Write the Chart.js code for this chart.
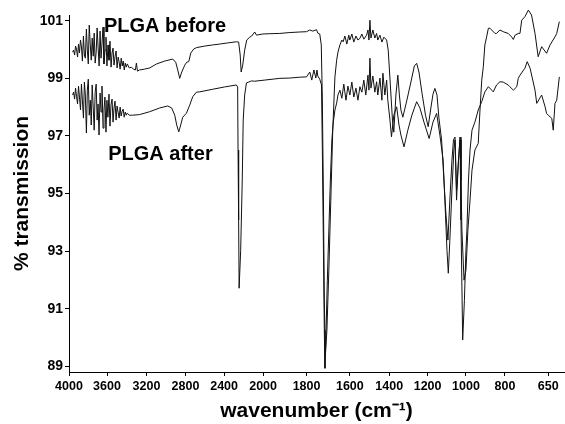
<!DOCTYPE html>
<html><head><meta charset="utf-8">
<script src="https://cdn.jsdelivr.net/npm/chart.js@4/dist/chart.umd.min.js"></script>
<style>html,body{margin:0;padding:0;background:#fff;}#wrap{width:565px;height:424px;}</style>
</head><body><div id="wrap"><canvas id="c" width="565" height="424"></canvas></div>
<script>
// ---- data (wavenumber cm-1, % transmission) ----
const beforeWn = [3962,3952,3941,3931,3921,3910,3900,3890,3879,3869,3859,3848,3838,3828,3817,3807,3797,3787,3776,3766,3756,3745,3735,3725,3714,3704,3694,3683,3673,3663,3652,3642,3632,3621,3611,3601,3590,3580,3570,3559,3549,3539,3529,3518,3508,3498,3487,3477,3467,3456,3446,3436,3425,3415,3405,3394,3374,3353,3333,3312,3302,3291,3271,
3220,3168,3096,3013,2931,2900,2879,2859,2838,2807,2787,2766,2745,2714,2683,2601,2519,2446,2364,2274,2251,2235,2225,2209,2189,2168,2137,2117,2086,2068,2003,1969,1923,1877,1831,1800,1785,1771,1754,1748,1739,1732,1727,1722,1718,1713,1706,1697,1688,1679,1669,1661,1655,1646,1637,1631,1623,1614,1605,1600,1590,1580,1569,1559,1549,1539,1529,1515,1508,1503,1498,1493,1483,1473,1464,1458,1447,1437,1427,1413,1405,1394,1383,1376,1365,1355,1347,1339,1329,1308,1287,1269,1257,1245,1230,1211,1197,1183,1172,1162,1151,1141,1127,1115,1104,1094,1084,1073,1065,1057,1049,1042,1031,1026,1021,1010,1000,990,979,969,954,937,928,919,911,903,894,885,877,851,843,826,809,789,777,771,765,754,748,742,731,719,708,696,685,673,656,644,627,621,612];
const beforeT = [99.91,99.98,99.81,100.12,100.02,99.74,100.19,99.88,100.33,100.09,99.60,100.47,99.81,99.70,100.71,99.98,99.50,100.85,100.16,99.63,100.40,99.77,100.57,99.53,99.91,100.75,100.09,99.43,100.64,99.70,100.26,100.78,99.50,99.98,100.43,99.43,100.16,99.63,100.29,99.39,99.88,100.05,99.46,99.77,99.95,99.36,99.74,99.56,99.32,99.70,99.43,99.60,99.29,99.53,99.39,99.50,99.36,99.39,99.32,99.29,99.53,99.25,99.29,
99.32,99.36,99.50,99.60,99.67,99.56,99.29,99.00,99.22,99.46,99.56,99.58,99.88,100.02,100.07,100.12,100.16,100.19,100.23,100.27,100.26,99.81,99.22,99.46,99.98,100.33,100.43,100.47,100.61,100.50,100.54,100.55,100.56,100.59,100.61,100.62,100.68,100.64,100.69,100.57,100.54,100.16,98.24,94.77,91.29,89.38,90.25,92.34,94.77,97.20,99.05,99.63,99.91,100.16,100.33,100.27,100.47,100.19,100.50,100.33,100.54,100.26,100.47,100.33,100.39,100.54,100.36,100.50,100.68,100.33,101.02,100.40,100.68,100.40,100.56,100.33,100.50,100.26,100.43,100.33,99.98,98.77,97.55,97.13,98.42,99.11,98.42,97.90,97.65,98.24,98.87,99.43,99.52,99.22,98.52,97.72,97.32,97.97,98.45,98.65,98.42,97.62,96.86,95.47,94.25,93.38,94.77,96.16,96.86,96.96,95.12,95.81,96.96,95.47,93.73,91.99,92.34,93.73,94.77,95.81,96.51,96.74,97.90,98.94,99.40,100.16,100.44,100.74,100.74,100.56,100.56,100.68,100.62,100.56,100.44,100.35,100.50,100.56,100.56,101.02,101.14,101.37,101.20,100.56,99.75,100.10,99.87,100.16,100.44,100.56,100.97];

const afterWn = [3962,3952,3941,3931,3921,3910,3900,3890,3879,3869,3859,3848,3838,3828,3817,3807,3797,3787,3776,3766,3756,3745,3735,3725,3714,3704,3694,3684,3673,3663,3653,3642,3632,3622,3611,3601,3591,3580,3570,3560,3549,3539,3529,3519,3508,3498,3488,3477,3467,3457,3446,3436,3426,3415,3405,3395,3374,
3340,3271,3168,3065,2982,2941,2910,2890,2869,2849,2828,2790,2756,2725,2687,2653,2519,2396,2274,2261,2257,2251,2246,2230,2214,2204,2189,2171,2148,2120,2086,1992,1923,1877,1831,1800,1785,1776,1766,1757,1752,1748,1739,1731,1727,1722,1718,1715,1711,1704,1697,1690,1683,1677,1669,1661,1655,1646,1637,1628,1618,1609,1600,1590,1580,1569,1559,1549,1539,1529,1519,1508,1503,1498,1493,1483,1473,1464,1458,1447,1437,1432,1422,1413,1407,1396,1388,1376,1361,1349,1339,1323,1303,1282,1257,1240,1219,1192,1172,1153,1136,1119,1110,1099,1092,1084,1073,1063,1057,1049,1039,1031,1026,1017,1008,1000,995,987,979,969,954,937,919,903,885,868,860,843,826,809,789,783,771,759,754,748,731,723,713,696,690,673,661,656,650,638,633,627,621,612];
const afterT = [98.42,98.52,98.28,98.66,98.38,98.11,98.73,98.35,97.90,98.80,98.24,97.62,98.87,98.42,97.10,98.59,98.97,97.72,98.24,97.38,98.77,97.97,97.20,98.52,98.80,97.55,98.11,97.03,98.49,97.83,98.73,97.27,97.90,98.35,97.13,98.24,97.65,98.45,97.34,98.07,98.28,97.48,97.97,98.21,97.55,98.04,97.83,97.62,98.00,97.69,97.86,97.93,97.65,97.83,97.72,97.79,97.72,
97.72,97.74,97.84,97.97,98.04,97.97,97.72,97.38,97.14,97.38,97.65,97.79,98.07,98.36,98.52,98.53,98.62,98.70,98.77,98.70,96.51,94.08,91.71,93.03,95.47,97.55,98.42,98.84,98.87,98.91,98.90,98.94,99.00,99.01,99.04,99.05,99.22,98.94,99.29,99.01,99.29,99.08,98.97,98.77,96.51,93.03,90.25,88.93,89.91,91.99,93.73,95.47,96.86,97.45,97.90,98.14,98.42,98.59,98.31,98.80,98.24,98.73,98.42,98.87,98.35,98.66,98.24,98.71,98.52,98.94,98.42,99.11,98.59,99.70,98.66,99.08,98.52,98.88,98.42,99.01,98.24,99.18,98.42,98.94,98.24,97.55,96.97,97.72,98.01,97.38,97.03,96.62,97.20,97.72,98.19,97.97,97.48,96.91,97.48,97.78,97.03,96.16,94.77,93.03,92.23,93.38,95.12,96.51,96.86,94.77,96.16,96.86,94.08,89.91,91.29,93.03,93.73,95.47,96.51,97.20,97.48,97.90,98.19,98.53,98.71,98.59,98.53,98.77,98.88,98.87,98.77,98.71,98.59,98.71,99.00,99.11,99.35,99.58,99.35,98.59,98.13,98.42,98.01,97.78,97.72,97.61,97.20,98.13,98.24,99.05];

const xTickValues = [4000,3600,3200,2800,2400,2000,1800,1600,1400,1200,1000,800,650];
const yTickValues = [89,91,93,95,97,99,101];
const seriesNames = ['PLGA before','PLGA after'];
const labelWn = [3632,3588];
const labelT = [100.62,96.16];

// ---- axis layout: the printed wavenumber axis is not uniform ----
const X_AXIS_STOPS   = [4000,3600,3200,2800,2400,2000,1800,1600,1400,1200,1000,800,650,596];
const X_AXIS_OFFSETS = [0,38,77.4,116.4,155,194,237.4,280.7,320,358.4,396.7,435.7,479,494.7];

function wnToDecimal(v){
  const s=X_AXIS_STOPS,o=X_AXIS_OFFSETS,L=o[o.length-1];
  let i=0;
  if (v>=s[0]) i=0;
  else if (v<=s[s.length-1]) i=s.length-2;
  else { while(!(v<=s[i] && v>=s[i+1])) i++; }
  const t=(s[i]-v)/(s[i]-s[i+1]);
  return (o[i]+t*(o[i+1]-o[i]))/L;
}
function decimalToWn(d){
  const s=X_AXIS_STOPS,o=X_AXIS_OFFSETS,L=o[o.length-1];
  const p=d*L; let i=0;
  while(i<o.length-2 && p>o[i+1]) i++;
  const t=(p-o[i])/(o[i+1]-o[i]);
  return s[i]+t*(s[i+1]-s[i]);
}
const BaseLinear = Chart.LinearScale || Chart.registry.getScale('linear');
class BrokenLinearScale extends BaseLinear {
  getPixelForValue(value){ return this.getPixelForDecimal(wnToDecimal(value)); }
  getValueForPixel(pixel){ return decimalToWn(this.getDecimalForPixel(pixel)); }
}
BrokenLinearScale.id = 'brokenLinear';
BrokenLinearScale.defaults = {};
Chart.register(BrokenLinearScale);

const toPoints = (xs, ys) => xs.map((x,i)=>({x, y: ys[i]}));

const FONT = "'Liberation Sans', Arial, Helvetica, sans-serif";

const labelPlugin = {
  id: 'seriesLabels',
  afterDatasetsDraw(chart){
    const {ctx, scales:{x, y}} = chart;
    ctx.save();
    ctx.font = 'bold 20px ' + FONT;
    ctx.fillStyle = '#000';
    ctx.textAlign = 'left';
    ctx.textBaseline = 'alphabetic';
    seriesNames.forEach((t,i)=>ctx.fillText(t, x.getPixelForValue(labelWn[i]), y.getPixelForValue(labelT[i])));
    ctx.restore();
  }
};

new Chart(document.getElementById('c'), {
  type: 'line',
  data: {
    datasets: [
      {label: seriesNames[0], data: toPoints(beforeWn, beforeT), borderColor:'#111', borderWidth:1, pointRadius:0, tension:0, clip:false},
      {label: seriesNames[1], data: toPoints(afterWn, afterT), borderColor:'#111', borderWidth:1, pointRadius:0, tension:0, clip:false}
    ]
  },
  options: {
    responsive:false, animation:false, devicePixelRatio:1,
    layout:{padding:{top:15,right:1,left:0,bottom:0}},
    plugins:{legend:{display:false}, tooltip:{enabled:false}},
    scales:{
      x:{
        type:'brokenLinear',
        afterBuildTicks: s => { s.ticks = xTickValues.map(v=>({value:v})); },
        afterFit: s => { s.height = 52; },
        border:{display:true,color:'#000',width:1},
        grid:{drawOnChartArea:false, drawTicks:true, tickLength:4, color:'#000'},
        ticks:{autoSkip:false, maxRotation:0, padding:3, color:'#000',
          font:{family:"'Liberation Sans Narrow', 'Liberation Sans', Arial, sans-serif", weight:'bold', size:12.5},
          callback: v => String(v)},
        title:{display:true, text:'wavenumber (cm⁻¹)', color:'#000', padding:{top:0,bottom:0},
          font:{family:FONT, weight:'bold', size:21}}
      },
      y:{
        min:88.8, max:101.2,
        afterBuildTicks: s => { s.ticks = yTickValues.map(v=>({value:v})); },
        afterFit: s => { s.width = 69; },
        border:{display:true,color:'#000',width:1},
        grid:{drawOnChartArea:false, drawTicks:true, tickLength:4, color:'#000'},
        ticks:{padding:2, color:'#000', font:{family:FONT, weight:'bold', size:14}, callback: v => String(v)},
        title:{display:true, text:'% transmission', color:'#000', padding:{top:9.5,bottom:0},
          font:{family:FONT, weight:'bold', size:21}}
      }
    }
  },
  plugins:[labelPlugin]
});
</script></body></html>
